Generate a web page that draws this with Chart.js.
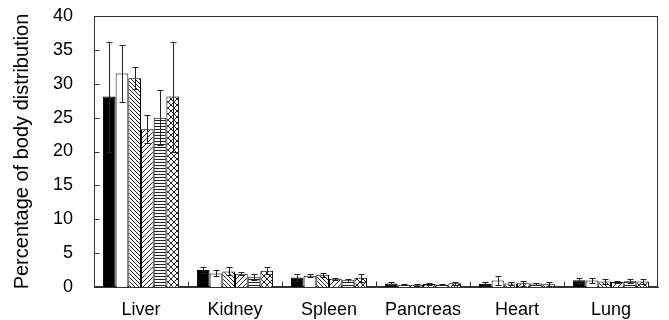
<!DOCTYPE html>
<html><head><meta charset="utf-8">
<script src="https://cdn.jsdelivr.net/npm/chart.js@4"></script>
<style>html,body{margin:0;padding:0;background:#fff}#wrap{width:669px;height:320px}</style>
</head><body><div id="wrap"><canvas id="c" width="669" height="320"></canvas></div>
<script>
const categories = ['Liver', 'Kidney', 'Spleen', 'Pancreas', 'Heart', 'Lung'];
const yTicks = [0, 5, 10, 15, 20, 25, 30, 35, 40];
const yTitle = 'Percentage of body distribution';

const series1 = [28.1, 2.5, 1.4, 0.5, 0.45, 1.0];
const series1Err = [8.1, 0.4, 0.45, 0.2, 0.3, 0.35];
const series2 = [31.5, 2.0, 1.65, 0.35, 0.95, 0.95];
const series2Err = [4.2, 0.45, 0.2, 0.1, 0.65, 0.4];
const series3 = [30.8, 2.3, 1.8, 0.35, 0.5, 0.8];
const series3Err = [1.6, 0.6, 0.3, 0.15, 0.2, 0.4];
const series4 = [23.3, 1.95, 1.2, 0.45, 0.55, 0.75];
const series4Err = [2.1, 0.25, 0.15, 0.15, 0.35, 0.2];
const series5 = [25.0, 1.45, 1.0, 0.35, 0.5, 0.85];
const series5Err = [4.1, 0.4, 0.2, 0.1, 0.15, 0.3];
const series6 = [28.1, 2.4, 1.35, 0.55, 0.4, 0.8];
const series6Err = [8.1, 0.5, 0.55, 0.2, 0.3, 0.35];

function makePattern(kind) {
  const s = kind === 'cross' ? 6 : (kind === 'down' ? 4 : (kind === 'up' ? 5 : 3));
  const c = document.createElement('canvas');
  c.width = s; c.height = s;
  const g = c.getContext('2d');
  g.fillStyle = '#fff'; g.fillRect(0, 0, s, s);
  g.strokeStyle = '#222'; g.lineWidth = 1;
  g.beginPath();
  if (kind === 'down' || kind === 'cross') {
    g.moveTo(-1, -1); g.lineTo(s + 1, s + 1);
    g.moveTo(-1 - s, -1); g.lineTo(1, s + 1);
    g.moveTo(s - 1, -1); g.lineTo(2 * s + 1, s + 1);
  }
  if (kind === 'up' || kind === 'cross') {
    g.moveTo(-1, s + 1); g.lineTo(s + 1, -1);
    g.moveTo(-1 - s, s + 1); g.lineTo(1, -1);
    g.moveTo(s - 1, s + 1); g.lineTo(2 * s + 1, -1);
  }
  if (kind === 'horiz') {
    g.moveTo(0, 0.5); g.lineTo(s, 0.5);
  }
  g.stroke();
  return g.createPattern(c, 'repeat');
}

const fills = ['#000', '#fff', makePattern('down'), makePattern('up'), makePattern('horiz'), makePattern('cross')];
const allSeries = [series1, series2, series3, series4, series5, series6];
const allErr = [series1Err, series2Err, series3Err, series4Err, series5Err, series6Err];

const datasets = allSeries.map((d, i) => ({
  label: 'S' + (i + 1),
  data: d,
  errors: allErr[i],
  backgroundColor: fills[i],
  borderColor: '#000',
  borderWidth: 1,
  categoryPercentage: 0.81,
  barPercentage: 1.0
}));

const framePlugin = {
  id: 'frame',
  beforeDatasetsDraw(chart) {
    const {ctx, chartArea: a, scales: {x, y}} = chart;
    ctx.save();
    ctx.strokeStyle = '#333';
    ctx.lineWidth = 1;
    const L = Math.round(a.left) + 0.5, R = Math.round(a.right) - 0.5;
    const T = Math.round(a.top) + 0.5, B = Math.round(a.bottom) - 0.5;
    ctx.strokeRect(L, T, R - L, B - T);
    ctx.beginPath();
    yTicks.forEach(v => {
      if (v === yTicks[0] || v === yTicks[yTicks.length - 1]) return;
      const py = Math.round(y.getPixelForValue(v)) + 0.5;
      ctx.moveTo(L, py); ctx.lineTo(L + 5, py);
    });
    for (let i = 1; i < categories.length; i++) {
      const px = Math.round((x.getPixelForValue(i - 1) + x.getPixelForValue(i)) / 2) + 0.5;
      ctx.moveTo(px, B); ctx.lineTo(px, B - 5);
    }
    ctx.stroke();
    ctx.restore();
  },
  afterDatasetsDraw(chart) {
    const {ctx, scales: {y}} = chart;
    ctx.save();
    ctx.strokeStyle = '#222';
    ctx.lineWidth = 1;
    ctx.beginPath();
    chart.data.datasets.forEach((ds, di) => {
      const meta = chart.getDatasetMeta(di);
      meta.data.forEach((bar, j) => {
        const v = ds.data[j], e = ds.errors[j];
        const px = Math.round(bar.x) + 0.5;
        const yt = Math.round(y.getPixelForValue(v + e)) + 0.5;
        const yb = Math.round(y.getPixelForValue(Math.max(0, v - e))) + 0.5;
        ctx.moveTo(px, yt); ctx.lineTo(px, yb);
        ctx.moveTo(px - 3, yt); ctx.lineTo(px + 3, yt);
        ctx.moveTo(px - 3, yb); ctx.lineTo(px + 3, yb);
      });
    });
    ctx.stroke();
    ctx.restore();
  }
};

new Chart(document.getElementById('c'), {
  type: 'bar',
  data: {labels: categories, datasets},
  options: {
    responsive: false,
    animation: false,
    devicePixelRatio: 1,
    layout: {padding: {left: 0, right: 11, top: 16, bottom: 0}},
    plugins: {legend: {display: false}, tooltip: {enabled: false}},
    scales: {
      x: {
        grid: {display: false, drawTicks: false},
        border: {display: true, color: '#333', width: 1},
        ticks: {color: '#000', font: {family: "'Liberation Sans', Arial, sans-serif", size: 18}, padding: 12, maxRotation: 0},
        afterFit(s) { s.height = 33; }
      },
      y: {
        min: 0, max: 40,
        afterBuildTicks(s) { s.ticks = yTicks.map(v => ({value: v})); },
        grid: {display: false, drawTicks: true, tickLength: 18},
        border: {display: true, color: '#333', width: 1},
        ticks: {color: '#000', font: {family: "'Liberation Sans', Arial, sans-serif", size: 18}, padding: 3},
        title: {display: true, text: yTitle, color: '#000', font: {family: "'Liberation Sans', Arial, sans-serif", size: 20}, padding: {top: 10, bottom: 0}},
        afterFit(s) { s.width = 94; }
      }
    }
  },
  plugins: [framePlugin]
});
</script>
</body></html>
